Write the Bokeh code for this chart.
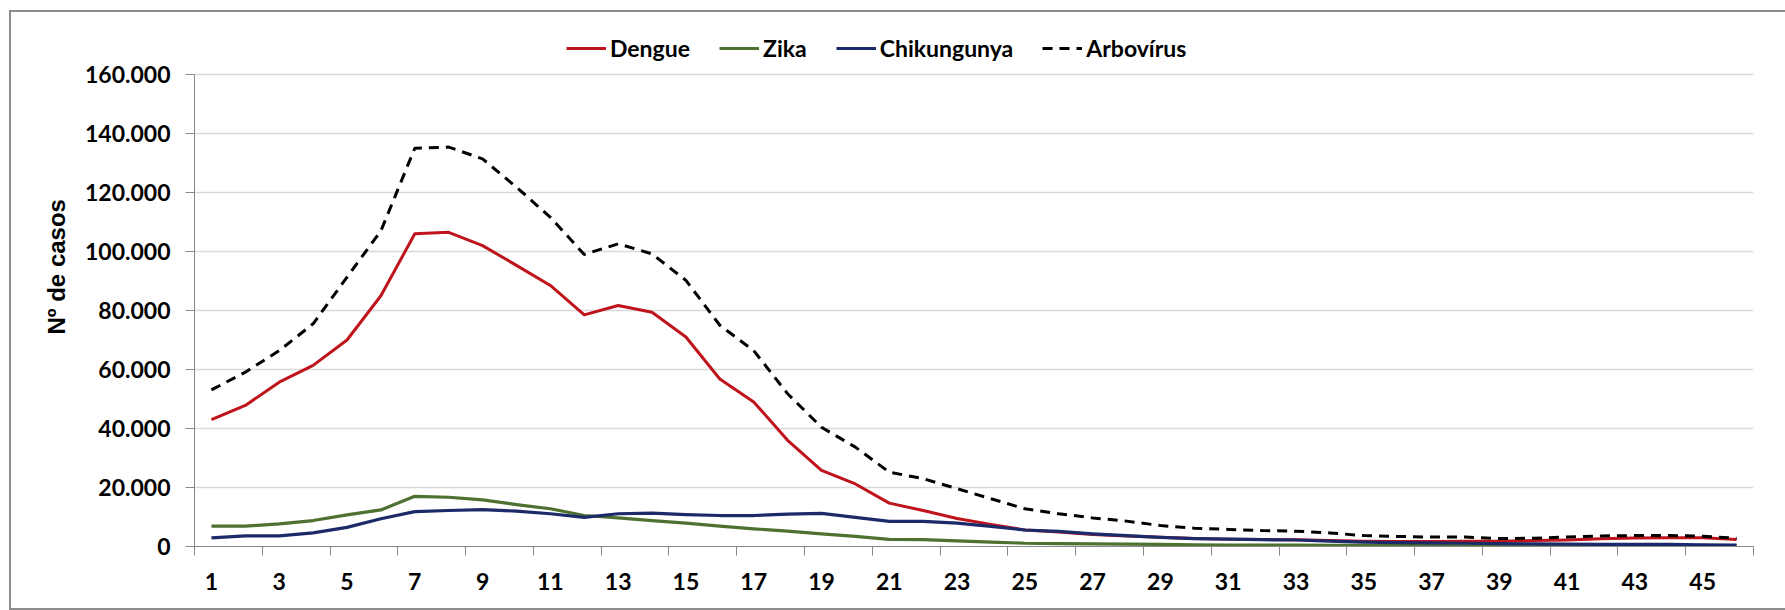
from bokeh.plotting import figure
from bokeh.models import FixedTicker, Legend, LegendItem, ColumnDataSource
from bokeh.embed import file_html
from bokeh.resources import INLINE

weeks = list(range(1, 47))

dengue = [43000, 47800, 55700, 61400, 70000, 85000, 106000, 106500, 102000, 95300,
          88500, 78500, 81700, 79400, 71000, 56800, 49000, 36000, 25800, 21200,
          14700, 12200, 9500, 7500, 5600, 4900, 4100, 3600, 3100, 2700,
          2500, 2400, 2300, 2000, 1800, 1700, 1700, 1800, 1800, 2000,
          2200, 2600, 2900, 3000, 3000, 2400]
zika = [6900, 6900, 7700, 8800, 10700, 12400, 17000, 16700, 15800, 14200,
        12800, 10500, 9700, 8800, 7900, 6900, 6000, 5200, 4300, 3400,
        2400, 2300, 1900, 1500, 1100, 1000, 900, 800, 700, 600,
        500, 500, 450, 400, 350, 300, 300, 250, 250, 250,
        200, 200, 200, 200, 200, 200]
chikungunya = [2900, 3600, 3600, 4600, 6500, 9400, 11800, 12200, 12500, 12000,
               11100, 9900, 11100, 11300, 10800, 10500, 10500, 11000, 11200, 9900,
               8500, 8500, 7900, 6800, 5600, 5100, 4300, 3700, 3100, 2700,
               2500, 2300, 2200, 1800, 1500, 1300, 1200, 1100, 1000, 900,
               800, 700, 700, 700, 600, 500]
arbovirus = [53100, 59100, 66400, 75500, 91300, 107000, 135000, 135400, 131400, 121800,
             111600, 99000, 102600, 99200, 90200, 75000, 66400, 51800, 40400, 33700,
             25200, 23000, 19600, 16200, 12800, 11100, 9700, 8600, 7100, 6200,
             5800, 5400, 5200, 4600, 3700, 3400, 3200, 3200, 2700, 2800,
             3200, 3600, 3700, 3700, 3500, 2800]

series_names = ["Dengue", "Zika", "Chikungunya", "Arbovírus"]
y_ticks = [0, 20000, 40000, 60000, 80000, 100000, 120000, 140000, 160000]
y_tick_labels = ["0", "20.000", "40.000", "60.000", "80.000", "100.000",
                 "120.000", "140.000", "160.000"]
x_label_ticks = list(range(1, 46, 2))
x_boundary_ticks = [w + 0.5 for w in range(0, 47, 2)]

# layout (pixels): frame extends above the 160.000 line to leave room for the legend
FRAME_H = 526
AXIS_H = 472
y_max = y_ticks[-1]
y_end = y_max * FRAME_H / AXIS_H

src = ColumnDataSource(dict(week=weeks, dengue=dengue, zika=zika,
                            chik=chikungunya, arbo=arbovirus))

p = figure(width=1776, height=600, output_backend="svg", toolbar_location=None,
           x_range=(0.5, 46.5), y_range=(0, y_end),
           min_border_left=185, min_border_right=32,
           min_border_top=10, min_border_bottom=64)
p.outline_line_color = None
p.background_fill_color = "white"
p.border_fill_alpha = 0
p.styles = {"margin": "10px 0px 0px 9px",
            "box-shadow": "inset 2px 0 0 #8c8c8c, inset 0 2px 0 #8c8c8c, inset 0 -2px 0 #8c8c8c"}

FONT = "Lato"

# y axis
p.yaxis.bounds = (0, y_max)
p.yaxis.ticker = FixedTicker(ticks=y_ticks)
p.yaxis.major_label_overrides = {t: l for t, l in zip(y_ticks, y_tick_labels)}
p.yaxis.major_label_text_font = FONT
p.yaxis.major_label_text_font_style = "bold"
p.yaxis.major_label_text_font_size = "23px"
p.yaxis.major_label_text_color = "black"
p.yaxis.major_tick_out = 9
p.yaxis.major_tick_in = 0
p.yaxis.major_label_standoff = 15
p.yaxis.minor_tick_out = 0
p.yaxis.minor_tick_in = 0
p.yaxis.axis_line_color = "#888888"
p.yaxis.major_tick_line_color = "#888888"
p.yaxis.axis_label = "\u00a0" * 5 + "Nº de casos"
p.yaxis.axis_label_text_font = "Liberation Sans"
p.yaxis.axis_label_text_font_style = "bold"
p.yaxis.axis_label_text_font_size = "24px"
p.yaxis.axis_label_text_color = "black"
p.yaxis.axis_label_standoff = 12

# x axis
p.xaxis.ticker = FixedTicker(ticks=x_label_ticks, minor_ticks=x_boundary_ticks)
p.xaxis.major_label_text_font = FONT
p.xaxis.major_label_text_font_style = "bold"
p.xaxis.major_label_text_font_size = "23px"
p.xaxis.major_label_text_color = "black"
p.xaxis.major_tick_out = 0
p.xaxis.major_tick_in = 0
p.xaxis.minor_tick_out = 9
p.xaxis.minor_tick_in = 0
p.xaxis.minor_tick_line_color = "#888888"
p.xaxis.major_label_standoff = 17
p.xaxis.axis_line_color = "#888888"

p.xgrid.grid_line_color = None
p.ygrid.ticker = FixedTicker(ticks=y_ticks)
p.ygrid.grid_line_color = "#d9d9d9"
p.ygrid.grid_line_width = 1.5

r_d = p.line("week", "dengue", source=src, line_color="#c0141c", line_width=3,
             line_join="round")
r_z = p.line("week", "zika", source=src, line_color="#4e7030", line_width=3.2,
             line_join="round")
r_c = p.line("week", "chik", source=src, line_color="#1c2a6a", line_width=3.2,
             line_join="round")
r_a = p.line("week", "arbo", source=src, line_color="black", line_width=3,
             line_dash="10 7")

legend = Legend(items=[LegendItem(label=n, renderers=[r])
                       for n, r in zip(series_names, [r_d, r_z, r_c, r_a])],
                orientation="horizontal", location=(372, 484),
                label_text_font=FONT, label_text_font_style="bold",
                label_text_font_size="23px", label_text_color="black",
                glyph_width=40, glyph_height=28, label_standoff=4,
                spacing=29, padding=0, margin=0,
                border_line_color=None, background_fill_alpha=0)
p.add_layout(legend)

open("out.html", "w").write(file_html(p, INLINE))
